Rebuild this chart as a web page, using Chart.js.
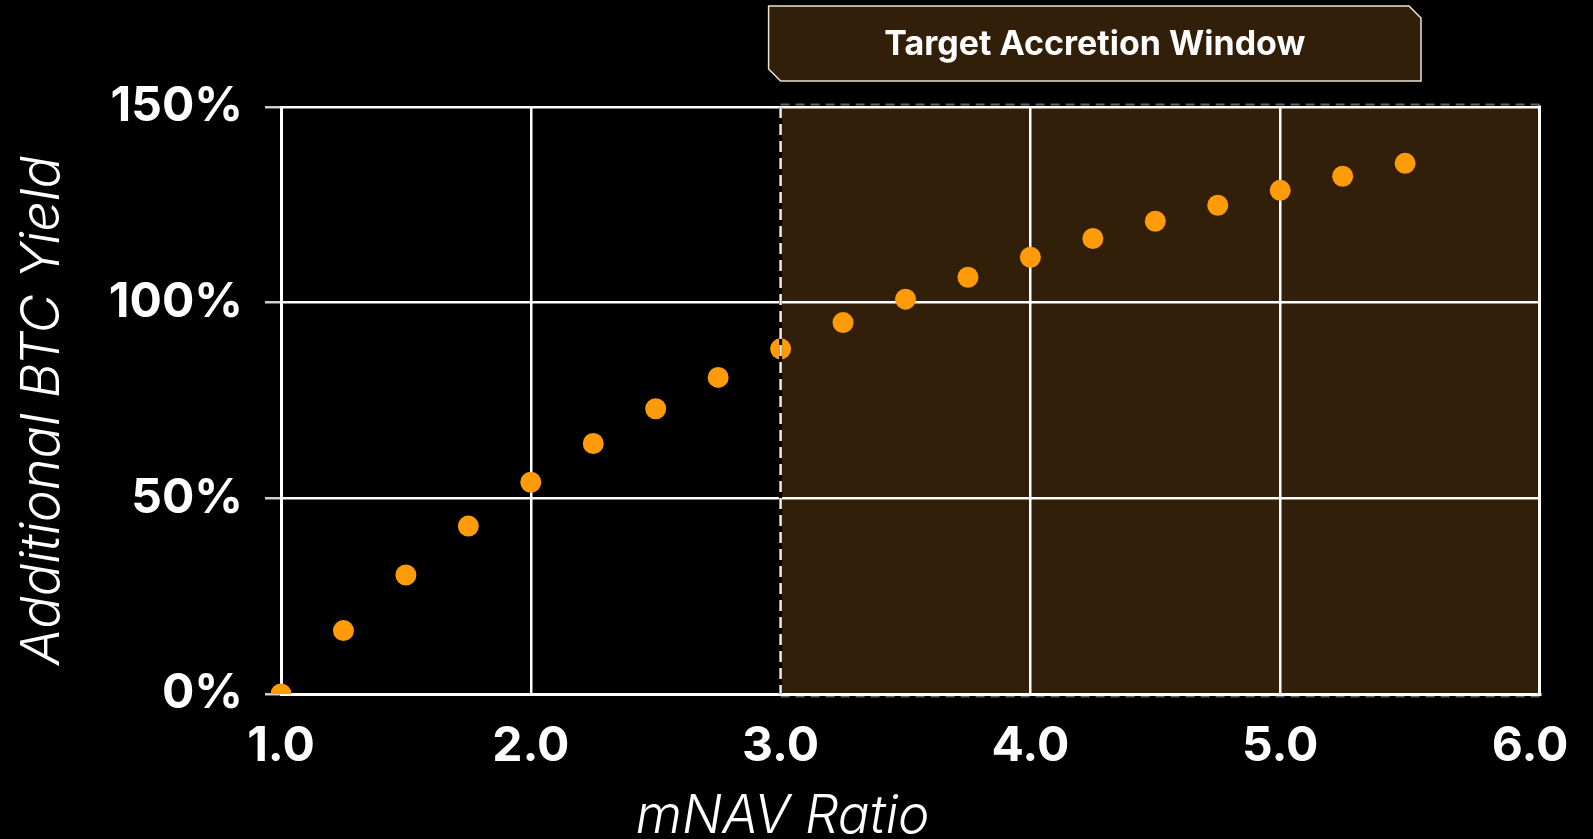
<!DOCTYPE html>
<html>
<head>
<meta charset="utf-8">
<title>mNAV Ratio vs Additional BTC Yield</title>
<script src="https://cdn.jsdelivr.net/npm/chart.js@4.4.1/dist/chart.umd.min.js"></script>
<style>
  html, body { margin: 0; padding: 0; background: #000; }
  #wrap { position: relative; width: 1593px; height: 839px; }
</style>
</head>
<body>
<div id="wrap"><canvas id="yieldChart"></canvas></div>
<script>
/* ── Data ─────────────────────────────────────────────────────── */
const MNAV_RATIO = [1.0, 1.25, 1.5, 1.75, 2.0, 2.25, 2.5, 2.75, 3.0, 3.25,
                    3.5, 3.75, 4.0, 4.25, 4.5, 4.75, 5.0, 5.25, 5.5];
const BTC_YIELD  = [0, 16.2, 30.4, 42.9, 54.1, 64.0, 72.9, 80.9, 88.2, 94.9,
                    100.9, 106.5, 111.6, 116.4, 120.8, 124.9, 128.7, 132.3, 135.6];
const X_TICKS = [1, 2, 3, 4, 5, 6];
const X_RANGE = [1, 6.04];          // plot frame runs a touch past the 6.0 tick
const Y_TICKS = [0, 50, 100, 150];
const WINDOW_START = 3.0;
const WINDOW_LABEL = "Target Accretion Window";
const X_TITLE = "mNAV Ratio";
const Y_TITLE = "Additional BTC Yield";

(function () {
  const ORANGE = "#ff9a08";
  const SHADE  = "#321f0a";
  const FONT   = "Inter, 'Noto Sans', sans-serif";

  /* ── Accretion window: shading under grid, frame + dashed edge, label on top ── */
  const windowPlugin = {
    id: "accretionWindow",
    beforeDraw(chart) {
      const { ctx, chartArea: a, scales: { x } } = chart;
      const x0 = x.getPixelForValue(WINDOW_START);
      ctx.save();
      ctx.fillStyle = SHADE;
      ctx.fillRect(x0, a.top, a.right - x0, a.bottom - a.top);
      ctx.setLineDash([9, 6]);
      ctx.strokeStyle = "rgba(200,200,200,.5)";
      ctx.lineWidth = 2;
      ctx.beginPath();
      ctx.moveTo(x0, a.top - 2.5); ctx.lineTo(a.right, a.top - 2.5);
      ctx.moveTo(x0, a.bottom + 2.5); ctx.lineTo(a.right, a.bottom + 2.5);
      ctx.stroke();
      ctx.restore();
    },
    beforeDatasetsDraw(chart) {
      // right-hand frame line
      const { ctx, chartArea: a } = chart;
      ctx.save();
      ctx.strokeStyle = "#fff";
      ctx.lineWidth = 3;
      ctx.beginPath();
      ctx.moveTo(a.right - 0.5, a.top - 1.5);
      ctx.lineTo(a.right - 0.5, a.bottom + 1.5);
      ctx.stroke();
      ctx.restore();
    },
    afterDatasetsDraw(chart) {
      const { ctx, chartArea: a, scales: { x } } = chart;
      const x0 = x.getPixelForValue(WINDOW_START);
      ctx.save();
      ctx.strokeStyle = "#000";
      ctx.lineWidth = 3;
      ctx.beginPath(); ctx.moveTo(x0, a.top); ctx.lineTo(x0, a.bottom); ctx.stroke();
      ctx.setLineDash([11, 6]);
      ctx.strokeStyle = "#f3ece2";
      ctx.lineWidth = 2.5;
      ctx.beginPath(); ctx.moveTo(x0, a.top); ctx.lineTo(x0, a.bottom); ctx.stroke();
      ctx.restore();
    },
    afterDraw(chart) {
      const { ctx, chartArea: a, scales: { x } } = chart;
      // label box sits above the plot, starting a little left of the window edge
      const l = x.getPixelForValue(WINDOW_START) - 12;
      const r = a.right - 119;
      const t = 6, b = a.top - 26, c = 12;
      ctx.save();
      ctx.beginPath();
      ctx.moveTo(l, t);
      ctx.lineTo(r - c, t);
      ctx.lineTo(r, t + c);
      ctx.lineTo(r, b);
      ctx.lineTo(l + c, b);
      ctx.lineTo(l, b - c);
      ctx.closePath();
      ctx.fillStyle = SHADE;
      ctx.fill();
      ctx.strokeStyle = "#ece4d8";
      ctx.lineWidth = 1.5;
      ctx.stroke();
      ctx.fillStyle = "#fff";
      ctx.font = "700 34px " + FONT;
      ctx.textAlign = "center";
      ctx.textBaseline = "middle";
      ctx.fillText(WINDOW_LABEL, (l + r) / 2, (t + b) / 2 + 1);

      // axis titles: x sits under the 3.0 mark, y a little below the plot middle
      ctx.textBaseline = "alphabetic";
      ctx.font = "italic 300 53px " + FONT;
      ctx.fillText(X_TITLE, x.getPixelForValue(3.0) + 2, 833);

      ctx.translate(59, (a.top + a.bottom) / 2 + 10);
      ctx.rotate(-Math.PI / 2);
      ctx.font = "italic 300 54px " + FONT;
      ctx.fillText(Y_TITLE, 0, 0);
      ctx.restore();
    }
  };

  function init() {
    const canvas = document.getElementById("yieldChart");
    new Chart(canvas, {
      type: "scatter",
      data: {
        datasets: [{
          label: Y_TITLE,
          data: MNAV_RATIO.map((v, i) => ({ x: v, y: BTC_YIELD[i] })),
          backgroundColor: ORANGE,
          borderWidth: 0,
          pointRadius: 10.5,
          pointHoverRadius: 10.5,
          clip: { left: 20, top: 20, right: 20, bottom: 0 }
        }]
      },
      options: {
        responsive: true,
        maintainAspectRatio: false,
        animation: false,
        layout: { padding: { top: 107, right: 53, left: 0, bottom: 0 } },
        plugins: { legend: { display: false }, tooltip: { enabled: false } },
        scales: {
          x: {
            type: "linear",
            min: X_RANGE[0], max: X_RANGE[1],
            afterBuildTicks: s => { s.ticks = X_TICKS.map(v => ({ value: v })); },
            afterFit: s => { s.height = 145; s.paddingLeft = 0; s.paddingRight = 0; },
            ticks: {
              color: "#fff", padding: 24,
              font: { family: FONT, size: 48, weight: "700" },
              callback: v => Number(v).toFixed(1)
            },
            grid: {
              // no plain gridline at the window edge (dashed one is drawn) or at 6.0 (frame does it)
              color: c => (c.tick && (c.tick.value === WINDOW_START || c.tick.value === 6)) ? "rgba(0,0,0,0)" : "#fff",
              lineWidth: 2.5,
              drawTicks: false
            },
            border: { color: "#fff", width: 3 }
          },
          y: {
            type: "linear",
            min: Y_TICKS[0], max: Y_TICKS[Y_TICKS.length - 1],
            afterBuildTicks: s => { s.ticks = Y_TICKS.map(v => ({ value: v })); },
            afterFit: s => { s.width = 281; s.paddingTop = 0; s.paddingBottom = 0; },
            ticks: {
              color: "#fff", padding: 22,
              font: { family: FONT, size: 48, weight: "700" },
              callback: v => v + "%"
            },
            grid: { color: "#fff", lineWidth: 2.5, tickLength: 16, tickColor: "#cfcfcf" },
            border: { color: "#fff", width: 3 }
          }
        }
      },
      plugins: [windowPlugin]
    });
  }

  document.addEventListener("DOMContentLoaded", init);
})();
</script>
</body>
</html>
